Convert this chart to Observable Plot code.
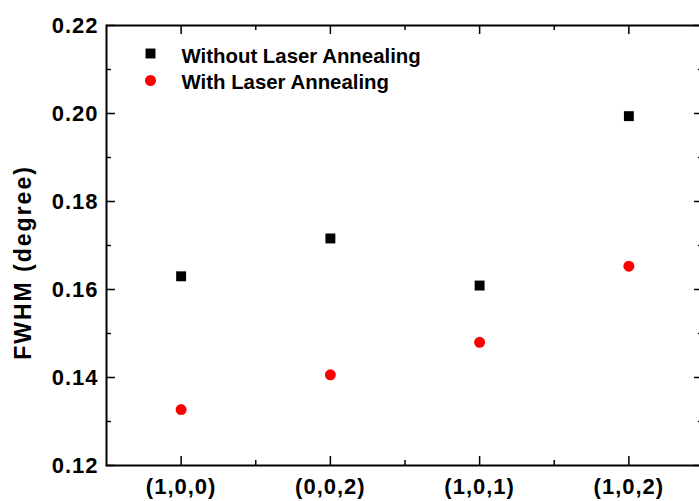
<!DOCTYPE html>
<html>
<head>
<meta charset="utf-8">
<script src="https://cdn.jsdelivr.net/npm/d3@7"></script>
<script src="https://cdn.jsdelivr.net/npm/@observablehq/plot@0.6"></script>
<style>
  html, body { margin: 0; padding: 0; background: #fff; overflow: hidden; }
  #chart svg { max-width: none !important; }
  #chart g[aria-label="y-axis tick label"] text,
  #chart g[aria-label="x-axis tick label"] text { letter-spacing: 1px; }
  #chart g.ylab text { letter-spacing: 2px; }
</style>
</head>
<body>
<div id="chart"></div>
<script>
const categories = ["(1,0,0)", "(0,0,2)", "(1,0,1)", "(1,0,2)"];
const withoutLA = [0.1630, 0.1716, 0.1609, 0.1994];
const withLA = [0.1327, 0.1406, 0.1480, 0.1653];
const seriesNames = ["Without Laser Annealing", "With Laser Annealing"];
const yMajor = [0.12, 0.14, 0.16, 0.18, 0.20, 0.22];
const yMinor = [0.13, 0.15, 0.17, 0.19, 0.21];
const xMinor = [0.5, 1.5, 2.5];
const yLabel = "FWHM (degree)";

const W = 703, H = 501;
const mL = 106, mR = 0, mT = 25, mB = 36;
const pw = W - mL - mR, ph = H - mT - mB;

const rows = [
  ...categories.map((c, i) => ({i, v: withoutLA[i], s: seriesNames[0]})),
  ...categories.map((c, i) => ({i, v: withLA[i], s: seriesNames[1]}))
];

const arial = "'Liberation Sans', Arial, sans-serif";
const chart = Plot.plot({
  width: W, height: H,
  marginLeft: mL, marginRight: mR, marginTop: mT, marginBottom: mB,
  style: {fontFamily: arial, color: "black", background: "white"},
  x: {type: "linear", domain: [-0.5, categories.length - 0.5], axis: null},
  y: {domain: [0.12, 0.22], axis: null},
  marks: [
    // tick labels
    Plot.axisY(yMajor, {anchor: "left", tickSize: 0, tickPadding: 8, tickFormat: d3.format(".2f"),
      fontSize: 22, fontWeight: "bold", label: null}),
    Plot.axisX(d3.range(categories.length), {anchor: "bottom", tickSize: 0, tickPadding: 13,
      tickFormat: i => categories[i], fontSize: 22, fontWeight: "bold", label: null}),
    // inward ticks: left & right
    Plot.tickY(yMajor, {y: d => d, insetRight: pw - 9, stroke: "black", strokeWidth: 1.5}),
    Plot.tickY(yMinor, {y: d => d, insetRight: pw - 5, stroke: "black", strokeWidth: 1.5}),
    Plot.tickY(yMajor, {y: d => d, insetLeft: pw - 9, stroke: "black", strokeWidth: 1.5}),
    Plot.tickY(yMinor, {y: d => d, insetLeft: pw - 5, stroke: "black", strokeWidth: 1.5}),
    // inward ticks: bottom & top
    Plot.tickX(d3.range(categories.length), {x: d => d, insetTop: ph - 9, stroke: "black", strokeWidth: 1.5}),
    Plot.tickX(xMinor, {x: d => d, insetTop: ph - 5, stroke: "black", strokeWidth: 1.5}),
    Plot.tickX(d3.range(categories.length), {x: d => d, insetBottom: ph - 9, stroke: "black", strokeWidth: 1.5}),
    Plot.tickX(xMinor, {x: d => d, insetBottom: ph - 5, stroke: "black", strokeWidth: 1.5}),
    Plot.frame({stroke: "black", strokeWidth: 2}),
    // data
    Plot.dot(rows.filter(d => d.s === seriesNames[0]), {x: "i", y: "v", symbol: "square", r: 5.6, fill: "black", stroke: "none"}),
    Plot.dot(rows.filter(d => d.s === seriesNames[1]), {x: "i", y: "v", symbol: "circle", r: 5.5, fill: "#ff0000", stroke: "none"}),
    // legend
    Plot.dot([seriesNames[0]], {frameAnchor: "top-left", dx: 44, dy: 28, symbol: "square", r: 5.6, fill: "black", stroke: "none"}),
    Plot.dot([seriesNames[1]], {frameAnchor: "top-left", dx: 44, dy: 55, symbol: "circle", r: 5.5, fill: "#ff0000", stroke: "none"}),
    Plot.text([seriesNames[0]], {text: d => d, frameAnchor: "top-left", dx: 75, dy: 30.5, textAnchor: "start", lineAnchor: "middle",
      fontWeight: "bold", fontSize: 20.4, fill: "black"}),
    Plot.text([seriesNames[1]], {text: d => d, frameAnchor: "top-left", dx: 75, dy: 56.5, textAnchor: "start", lineAnchor: "middle",
      fontWeight: "bold", fontSize: 20.4, fill: "black"}),
    // y label
    Plot.text([yLabel], {text: d => d, frameAnchor: "left", rotate: -90, dx: -83, dy: 17, lineAnchor: "middle", textAnchor: "middle",
      fontWeight: "bold", fontSize: 23, fill: "black", className: "ylab"})
  ]
});
document.getElementById("chart").appendChild(chart);
</script>
</body>
</html>
